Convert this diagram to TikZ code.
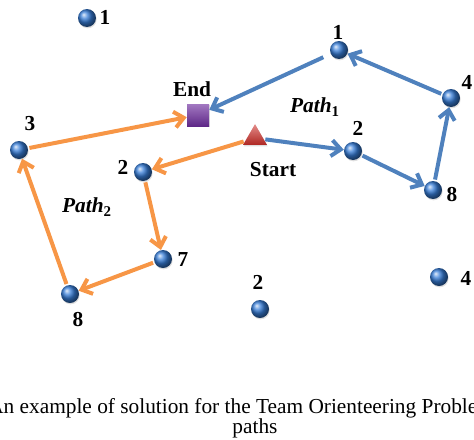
\documentclass[tikz,border=0pt]{standalone}
\usepackage{fontspec}
\setmainfont{Liberation Serif}
\usetikzlibrary{arrows.meta, shapes.geometric, shadows, positioning}

\definecolor{routeblue}{RGB}{79,129,189}
\definecolor{routeorange}{RGB}{247,150,70}
\definecolor{cityblue}{RGB}{55,125,215}
\definecolor{startred}{RGB}{205,45,40}
\definecolor{endpurple}{RGB}{112,48,160}

\begin{document}
\begin{tikzpicture}[x=0.75pt, y=-0.75pt,
  city/.style={circle, minimum size=13.5pt, inner sep=0pt, shading=ball, ball color=cityblue,
    drop shadow={opacity=0.25, shadow xshift=0.5pt, shadow yshift=-1pt}},
  score/.style={font=\fontsize{16}{18}\selectfont\bfseries, inner sep=0pt},
  pathname/.style={font=\fontsize{16}{18}\selectfont\bfseries},
  route/.style={line width=3pt, -{Straight Barb[length=7pt,width=12pt]}, shorten <=1pt},
  caption/.style={font=\fontsize{16}{18}\selectfont, inner sep=0pt}]
\useasboundingbox (0,0) rectangle (474,439);
\clip (0,0) rectangle (474,439);

% start and end
\node[regular polygon, regular polygon sides=3, minimum size=20.8pt, inner sep=0pt,
  top color=startred!55!white, bottom color=startred!85!black,
  drop shadow={opacity=0.25, shadow xshift=0.5pt, shadow yshift=-1pt}] (start) at (255,138) {};
\node[rectangle, minimum size=16.5pt, inner sep=0pt,
  top color=endpurple!65!white, bottom color=endpurple!85!black,
  drop shadow={opacity=0.25, shadow xshift=0.5pt, shadow yshift=-1pt}] (end) at (198,115) {};
\node[score] (startlbl) at (273,170) {Start};
\node[score] (endlbl) at (192,89) {End};

% cities
\node[city] (c1) at (87,18) {};
\node[city] (c2) at (339,50) {};
\node[city] (c3) at (451,98) {};
\node[city] (c4) at (353,151) {};
\node[city] (c5) at (433,190) {};
\node[city] (c6) at (19,150) {};
\node[city] (c7) at (143,172) {};
\node[city] (c8) at (163,259) {};
\node[city] (c9) at (70,294) {};
\node[city] (c10) at (260,309) {};
\node[city] (c11) at (439,277) {};

\node[score] (s1) at (105,17) {1};
\node[score] (s2) at (338,32) {1};
\node[score] (s3) at (467,82) {4};
\node[score] (s4) at (358,128) {2};
\node[score] (s5) at (452,195) {8};
\node[score] (s6) at (30,124) {3};
\node[score] (s7) at (123,167) {2};
\node[score] (s8) at (183,260) {7};
\node[score] (s9) at (78,320) {8};
\node[score] (s10) at (258,282) {2};
\node[score] (s11) at (466,278) {4};

\node[pathname] (path1) at (315,107) {\textit{Path}\textsubscript{\textup{1}}};
\node[pathname] (path2) at (87,207) {\textit{Path}\textsubscript{\textup{2}}};

% routes
\draw[route, routeblue] (start) -- (c4);
\draw[route, routeblue] (c4) -- (c5);
\draw[route, routeblue] (c5) -- (c3);
\draw[route, routeblue] (c3) -- (c2);
\draw[route, routeblue, shorten <=6pt] (c2) -- (end);

\draw[route, routeorange] (start) -- (c7);
\draw[route, routeorange] (c7) -- (c8);
\draw[route, routeorange] (c8) -- (c9);
\draw[route, routeorange] (c9) -- (c6);
\draw[route, routeorange] (c6) -- (end);

\node[caption, anchor=base west] (cap1) at (-12,413) {An example of solution for the Team Orienteering Proble};
\node[caption, anchor=base] (cap2) at (255,433) {paths};
\end{tikzpicture}
\end{document}
